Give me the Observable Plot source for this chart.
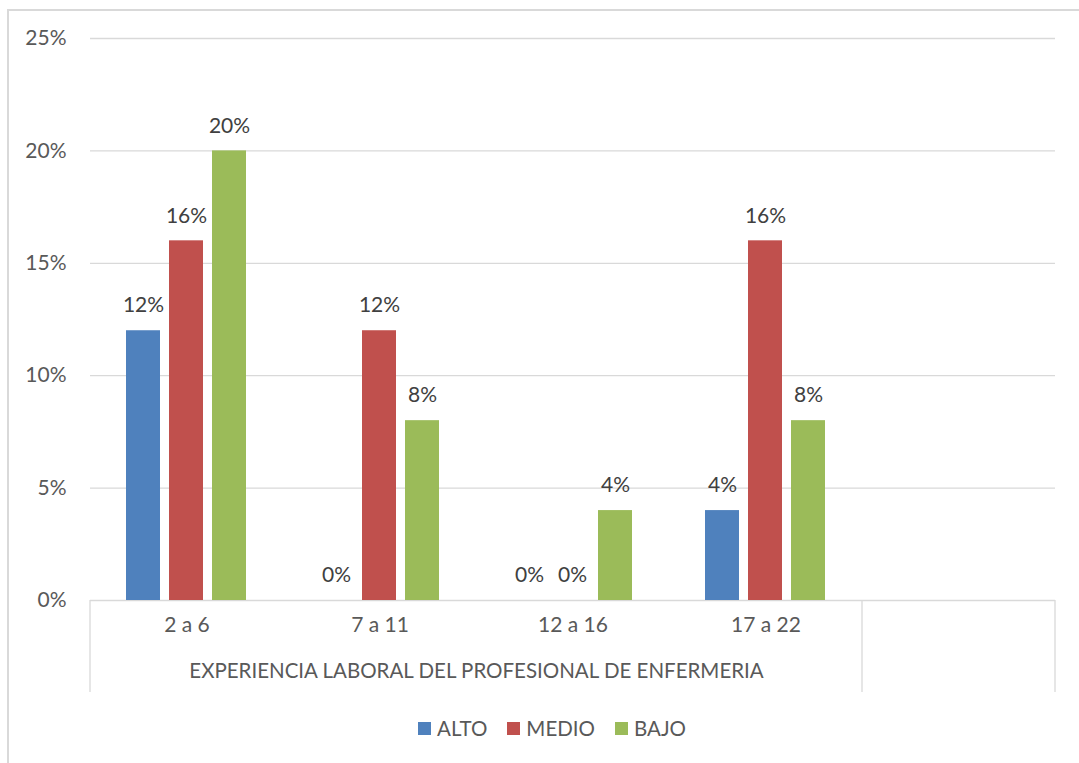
<!DOCTYPE html>
<html>
<head>
<meta charset="utf-8">
<script src="https://cdn.jsdelivr.net/npm/d3@7"></script>
<script src="https://cdn.jsdelivr.net/npm/@observablehq/plot@0.6"></script>
<style>
  html, body { margin: 0; padding: 0; background: #fff; overflow: hidden; }
  body { width: 1079px; height: 763px; position: relative; font-family: Lato, "Open Sans", sans-serif; color: #595959; }
  #border { position: absolute; left: 7px; top: 9px; width: 1200px; height: 1000px; border: 2px solid #d9d9d9; box-sizing: border-box; }
  #chart { position: absolute; left: 0; top: 0; }
  #legend { position: absolute; top: 716px; left: 418px; display: flex; align-items: center; font-size: 20.5px; color: #595959; white-space: nowrap; }
  #legend .item { display: flex; align-items: center; margin-right: 20px; }
  #legend .sw { width: 13px; height: 13px; margin-right: 6px; }
</style>
</head>
<body>
<div id="border"></div>
<div id="chart"></div>
<div id="legend"></div>
<script>
const categories = ["2 a 6", "7 a 11", "12 a 16", "17 a 22", ""];
const series = ["ALTO", "MEDIO", "BAJO"];
const colors = ["#4F81BD", "#C0504D", "#9BBB59"];
const alto  = [0.12, 0.00, 0.00, 0.04];
const medio = [0.16, 0.12, 0.00, 0.16];
const bajo  = [0.20, 0.08, 0.04, 0.08];
const yTicks = [0, 0.05, 0.10, 0.15, 0.20, 0.25];
const groupTitle = "EXPERIENCIA LABORAL DEL PROFESIONAL DE ENFERMERIA";

// label shown for zero values (as in the reference)
const showZero = {"ALTO": [false, true, true, false], "MEDIO": [false, false, true, false], "BAJO": [false, false, false, false]};

const valuesBySeries = {ALTO: alto, MEDIO: medio, BAJO: bajo};
const data = [];
categories.slice(0, 4).forEach((c, i) => {
  series.forEach(s => {
    data.push({cat: c, serie: s, value: valuesBySeries[s][i], zero: showZero[s][i]});
  });
});
const labelData = data.filter(d => d.value > 0 || d.zero);
const pct = d => Math.round(d * 100) + "%";

const chart = Plot.plot({
  width: 1079,
  height: 700,
  marginLeft: 88,
  marginRight: 22,
  marginTop: 38,
  marginBottom: 100,
  style: {fontFamily: "Lato, 'Open Sans', sans-serif", fontSize: "21px", color: "#595959", background: "transparent", overflow: "visible"},
  fx: {domain: categories, padding: 0, axis: null, label: null},
  x: {domain: series, paddingInner: 0.207, paddingOuter: 0.831, axis: null},
  y: {domain: [0, 0.25], axis: null},
  color: {domain: series, range: colors},
  marks: [
    Plot.ruleY(yTicks, {stroke: "#d9d9d9", strokeWidth: 1.3}),
    Plot.axisY({ticks: yTicks, tickFormat: pct, tickSize: 0, tickPadding: 24, label: null, fontSize: 21}),
    Plot.barY(data, {fx: "cat", x: "serie", y: "value", fill: "serie"}),
    Plot.text(labelData, {fx: "cat", x: "serie", y: "value", text: d => pct(d.value), dy: -25, fontSize: 21, fill: "#404040"}),
    Plot.text(categories, {fx: d => d, text: d => d, frameAnchor: "bottom", dy: 31, fontSize: 21}),
    Plot.text([groupTitle], {fx: () => "7 a 11", text: d => d, frameAnchor: "bottom-right", textAnchor: "middle", dy: 77, fontSize: 20.5})
  ]
});
document.getElementById("chart").appendChild(chart);

// category-axis dividers (Excel multi-level axis)
const fx = chart.scale("fx");
const ys = chart.scale("y");
const svg = d3.select(chart.tagName.toLowerCase() === "svg" ? chart : chart.querySelector("svg"));
const y0 = ys.apply(0);
const xs = [fx.apply(categories[0]), fx.apply(categories[4]), fx.apply(categories[4]) + fx.bandwidth];
svg.append("g").selectAll("line").data(xs).join("line")
  .attr("x1", d => d).attr("x2", d => d)
  .attr("y1", y0).attr("y2", y0 + 92)
  .attr("stroke", "#d9d9d9").attr("stroke-width", 1.3);

// legend
const legend = d3.select("#legend");
series.forEach((s, i) => {
  const it = legend.append("div").attr("class", "item");
  it.append("div").attr("class", "sw").style("background", colors[i]);
  it.append("span").text(s);
});
</script>
</body>
</html>
